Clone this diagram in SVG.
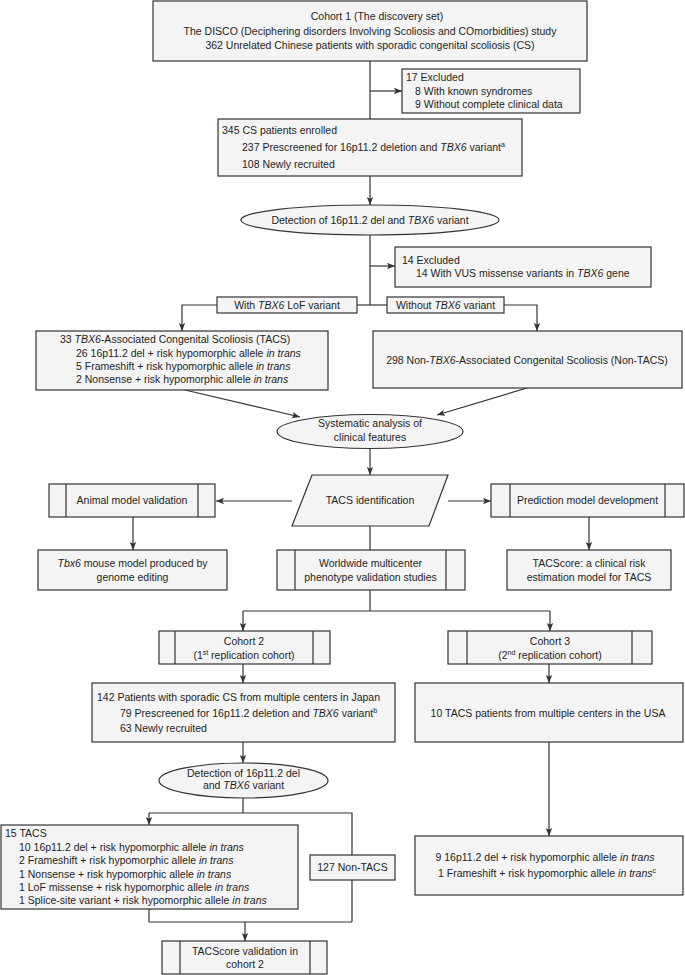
<svg xmlns="http://www.w3.org/2000/svg" width="685" height="975" viewBox="0 0 685 975">
<style>
.box{fill:#f4f4f4;stroke:#333;stroke-width:1.2}
.ln{fill:none;stroke:#333;stroke-width:1.2}
.arr{marker-end:url(#ah)}
text{font-family:"Liberation Sans",Arial,Helvetica,sans-serif;font-size:10.5px;fill:#1e1e1e}
.c{text-anchor:middle}
.i{font-style:italic}
.sup{font-size:7px}
</style>
<defs>
<marker id="ah" markerUnits="userSpaceOnUse" viewBox="0 0 8 8" markerWidth="8" markerHeight="8" refX="8" refY="4" orient="auto">
<path d="M0,0.8 L8,4 L0,7.2 L1.8,4 z" fill="#333"/>
</marker>
</defs>
<rect width="685" height="975" fill="#fff"/>

<g id="connectors">
<path class="ln" d="M370,61 V119"/>
<path class="ln arr" d="M370,91 H402"/>
<path class="ln arr" d="M370,176 V205"/>
<path class="ln" d="M370,235 V305"/>
<path class="ln arr" d="M370,266 H395"/>
<path class="ln" d="M357,305 H387"/>
<path class="ln arr" d="M217,305 H182 V331"/>
<path class="ln arr" d="M504,305 H537 V331"/>
<path class="ln arr" d="M185,390 L300,417"/>
<path class="ln arr" d="M527,388 L437,415"/>
<path class="ln arr" d="M370,448 V475"/>
<path class="ln arr" d="M292,501 H216"/>
<path class="ln arr" d="M448,501 H491"/>
<path class="ln arr" d="M133,517 V550"/>
<path class="ln arr" d="M589,517 V550"/>
<path class="ln" d="M370,526 V550"/>
<path class="ln" d="M370,590 V611 M243,611 H550"/>
<path class="ln arr" d="M243,611 V631"/>
<path class="ln arr" d="M550,611 V631"/>
<path class="ln arr" d="M243,664 V683"/>
<path class="ln arr" d="M549,664 V683"/>
<path class="ln arr" d="M549,742 V836"/>
<path class="ln arr" d="M243,742 V763"/>
<path class="ln" d="M243,798 V813 M149,813 H352 V922 M149,909 V922 H352"/>
<path class="ln arr" d="M149,813 V825"/>
<path class="ln arr" d="M245,922 V941"/>
</g>

<g id="cohort1">
<rect class="box" x="153" y="1" width="434" height="60"/>
<text class="c" x="377" y="20">Cohort 1 (The discovery set)</text>
<text class="c" x="370" y="34.5">The DISCO (Deciphering disorders Involving Scoliosis and COmorbidities) study</text>
<text class="c" x="370" y="49">362 Unrelated Chinese patients with sporadic congenital scoliosis (CS)</text>
</g>

<g id="excluded1">
<rect class="box" x="402" y="69" width="178" height="44"/>
<text x="406" y="81">17 Excluded</text>
<text x="415" y="95">8 With known syndromes</text>
<text x="415" y="108">9 Without complete clinical data</text>
</g>

<g id="enrolled">
<rect class="box" x="218" y="119" width="304" height="57"/>
<text x="222" y="134">345 CS patients enrolled</text>
<text x="242" y="151">237 Prescreened for 16p11.2 deletion and <tspan class="i">TBX6</tspan> variant<tspan class="sup" dy="-4">a</tspan></text>
<text x="242" y="168">108 Newly recruited</text>
</g>

<g id="detection1">
<ellipse class="box" cx="370" cy="220" rx="129" ry="15"/>
<text class="c" x="370" y="223.5">Detection of 16p11.2 del and <tspan class="i">TBX6</tspan> variant</text>
</g>

<g id="excluded2">
<rect class="box" x="395" y="247" width="256" height="40"/>
<text x="402" y="264">14 Excluded</text>
<text x="416" y="277">14 With VUS missense variants in <tspan class="i">TBX6</tspan> gene</text>
</g>

<g id="label-lof">
<rect class="box" x="217" y="297" width="140" height="16"/>
<text class="c" x="287" y="309">With <tspan class="i">TBX6</tspan> LoF variant</text>
</g>

<g id="label-without">
<rect class="box" x="387" y="297" width="117" height="16"/>
<text class="c" x="445.5" y="309">Without <tspan class="i">TBX6</tspan> variant</text>
</g>

<g id="tacs1">
<rect class="box" x="36" y="331" width="292" height="59"/>
<text x="60" y="343"><tspan>33 </tspan><tspan class="i">TBX6</tspan>-Associated Congenital Scoliosis (TACS)</text>
<text x="76" y="357">26 16p11.2 del + risk hypomorphic allele <tspan class="i">in trans</tspan></text>
<text x="76" y="370">5 Frameshift + risk hypomorphic allele <tspan class="i">in trans</tspan></text>
<text x="76" y="383">2 Nonsense + risk hypomorphic allele <tspan class="i">in trans</tspan></text>
</g>

<g id="nontacs1">
<rect class="box" x="373" y="331" width="309" height="57"/>
<text class="c" x="527" y="364">298 Non-<tspan class="i">TBX6</tspan>-Associated Congenital Scoliosis (Non-TACS)</text>
</g>

<g id="systematic">
<ellipse class="box" cx="370" cy="431.5" rx="93" ry="17"/>
<text class="c" x="370" y="427">Systematic analysis of</text>
<text class="c" x="370" y="441">clinical features</text>
</g>

<g id="tacs-identification">
<polygon class="box" points="312,475 448,475 429,526 292,526"/>
<text class="c" x="370" y="504">TACS identification</text>
</g>

<g id="animal">
<rect class="box" x="49" y="484" width="166" height="33"/>
<path class="ln" d="M66,484 V517 M198,484 V517"/>
<text class="c" x="132" y="504">Animal model validation</text>
</g>

<g id="prediction">
<rect class="box" x="491" y="484" width="193" height="33"/>
<path class="ln" d="M510,484 V517 M665,484 V517"/>
<text class="c" x="587.5" y="504">Prediction model development</text>
</g>

<g id="tbx6-mouse">
<rect class="box" x="38" y="550" width="189" height="40"/>
<text class="c" x="132.5" y="567"><tspan class="i">Tbx6</tspan> mouse model produced by</text>
<text class="c" x="132.5" y="580.5">genome editing</text>
</g>

<g id="worldwide">
<rect class="box" x="277" y="550" width="188" height="40"/>
<path class="ln" d="M295,550 V590 M446,550 V590"/>
<text class="c" x="370.5" y="567">Worldwide multicenter</text>
<text class="c" x="370.5" y="580.5">phenotype validation studies</text>
</g>

<g id="tacscore">
<rect class="box" x="507" y="550" width="164" height="40"/>
<text class="c" x="589" y="567">TACScore: a clinical risk</text>
<text class="c" x="589" y="580.5">estimation model for TACS</text>
</g>

<g id="cohort2">
<rect class="box" x="159" y="631" width="171" height="33"/>
<path class="ln" d="M175,631 V664 M313,631 V664"/>
<text class="c" x="244" y="644.5">Cohort 2</text>
<text class="c" x="244" y="658.5">(1<tspan class="sup" dy="-4">st</tspan><tspan dy="4"> replication cohort)</tspan></text>
</g>

<g id="cohort3">
<rect class="box" x="448" y="631" width="204" height="33"/>
<path class="ln" d="M467,631 V664 M632,631 V664"/>
<text class="c" x="550" y="644.5">Cohort 3</text>
<text class="c" x="550" y="658.5">(2<tspan class="sup" dy="-4">nd</tspan><tspan dy="4"> replication cohort)</tspan></text>
</g>

<g id="japan">
<rect class="box" x="92" y="683" width="303" height="59"/>
<text x="97" y="701">142 Patients with sporadic CS from multiple centers in Japan</text>
<text x="120" y="716.5">79 Prescreened for 16p11.2 deletion and <tspan class="i">TBX6</tspan> variant<tspan class="sup" dy="-4">b</tspan></text>
<text x="120" y="731.5">63 Newly recruited</text>
</g>

<g id="usa">
<rect class="box" x="415" y="683" width="268" height="59"/>
<text class="c" x="548" y="716.5">10 TACS patients from multiple centers in the USA</text>
</g>

<g id="detection2">
<ellipse class="box" cx="243.5" cy="780.5" rx="84.5" ry="17.5"/>
<text class="c" x="243.5" y="776.5">Detection of 16p11.2 del</text>
<text class="c" x="243.5" y="789">and <tspan class="i">TBX6</tspan> variant</text>
</g>

<g id="tacs2">
<rect class="box" x="1" y="825" width="297" height="84"/>
<text x="5" y="837">15 TACS</text>
<text x="19" y="850.5">10 16p11.2 del + risk hypomorphic allele <tspan class="i">in trans</tspan></text>
<text x="19" y="864">2 Frameshift + risk hypomorphic allele <tspan class="i">in trans</tspan></text>
<text x="19" y="877.5">1 Nonsense + risk hypomorphic allele <tspan class="i">in trans</tspan></text>
<text x="19" y="891">1 LoF missense + risk hypomorphic allele <tspan class="i">in trans</tspan></text>
<text x="19" y="904">1 Splice-site variant + risk hypomorphic allele <tspan class="i">in trans</tspan></text>
</g>

<g id="nontacs2">
<rect class="box" x="310" y="855" width="85" height="25"/>
<text class="c" x="352.5" y="871">127 Non-TACS</text>
</g>

<g id="usa-breakdown">
<rect class="box" x="415" y="836" width="268" height="59"/>
<text class="c" x="545" y="861">9 16p11.2 del + risk hypomorphic allele <tspan class="i">in trans</tspan></text>
<text class="c" x="547" y="877">1 Frameshift + risk hypomorphic allele <tspan class="i">in trans</tspan><tspan class="sup" dy="-4">c</tspan></text>
</g>

<g id="tacscore-validation">
<rect class="box" x="162" y="941" width="165" height="33"/>
<path class="ln" d="M180,941 V974 M310,941 V974"/>
<text class="c" x="245" y="955">TACScore validation in</text>
<text class="c" x="245" y="967.5">cohort 2</text>
</g>
</svg>
